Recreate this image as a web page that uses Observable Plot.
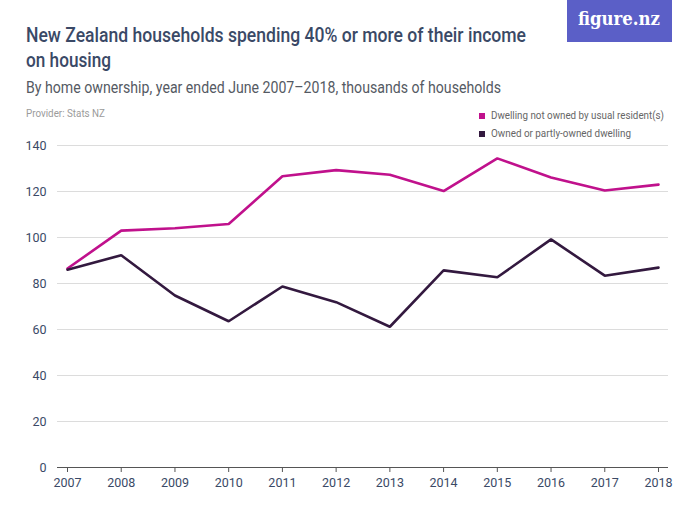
<!DOCTYPE html>
<html>
<head>
<meta charset="utf-8">
<script src="https://cdn.jsdelivr.net/npm/d3@7"></script>
<script src="https://cdn.jsdelivr.net/npm/@observablehq/plot@0.6"></script>
<style>
  body { margin: 0; background: #fff; font-family: Roboto, sans-serif; }
  #wrap { position: relative; width: 700px; height: 525px; overflow: hidden; }
  .abs { position: absolute; white-space: nowrap; }
  .fit { display: inline-block; transform-origin: 0 50%; white-space: nowrap; }
  #title { left: 26px; top: 23px; font-size: 20px; line-height: 25px; color: #3a4966; font-weight: 500; }
  #subtitle { left: 26px; top: 78px; font-size: 16.5px; line-height: 20px; color: #555a63; }
  #provider { left: 26px; top: 107px; font-size: 10.5px; line-height: 13px; color: #9b9b9b; }
  #logo { left: 567px; top: 0; width: 105px; height: 42px; background: #5b5fc7; }
  #logotext { position: absolute; left: 11px; top: 6px; color: #fff; font-family: "DejaVu Serif", "Liberation Serif", serif;
              font-weight: bold; font-size: 19px; line-height: 24px; }
  .leg { font-size: 11.5px; line-height: 14px; color: #666; left: 491px; }
  .sw { position: absolute; width: 6px; height: 6px; left: 479px; }
  #chart { position: absolute; left: 0; top: 135px; }
</style>
</head>
<body>
<div id="wrap">
  <div class="abs" id="title"><span class="fit" data-w="500">New Zealand households spending 40% or more of their income</span><br><span class="fit" data-w="85">on housing</span></div>
  <div class="abs" id="subtitle"><span class="fit" data-w="475">By home ownership, year ended June 2007–2018, thousands of households</span></div>
  <div class="abs" id="provider"><span class="fit" data-w="79">Provider: Stats NZ</span></div>
  <div class="abs" id="logo"><div id="logotext"><span class="fit" data-w="82">figure.nz</span></div></div>
  <div class="sw" style="top:112.5px;background:#c0118c"></div>
  <div class="sw" style="top:131px;background:#33193f"></div>
  <div class="abs leg" style="top:108px"><span class="fit" data-w="173">Dwelling not owned by usual resident(s)</span></div>
  <div class="abs leg" style="top:126px"><span class="fit" data-w="140">Owned or partly-owned dwelling</span></div>
  <div id="chart"></div>
</div>
<script>
const years = [2007, 2008, 2009, 2010, 2011, 2012, 2013, 2014, 2015, 2016, 2017, 2018];
const notOwned = [86.5, 103, 104, 105.9, 126.6, 129.3, 127.3, 120.2, 134.4, 126.1, 120.4, 123];
const owned = [86, 92.3, 74.8, 63.6, 78.7, 71.9, 61.2, 85.7, 82.7, 99.2, 83.4, 86.9];
const seriesNames = ["Dwelling not owned by usual resident(s)", "Owned or partly-owned dwelling"];
const colors = ["#c0118c", "#33193f"];
const yTicks = [0, 20, 40, 60, 80, 100, 120, 140];

const data = [];
years.forEach((y, i) => {
  data.push({year: y, value: notOwned[i], series: seriesNames[0]});
  data.push({year: y, value: owned[i], series: seriesNames[1]});
});

const chart = Plot.plot({
  width: 700,
  height: 372,
  marginTop: 10,
  marginBottom: 40,
  marginLeft: 57,
  marginRight: 32,
  insetLeft: 10,
  insetRight: 10,
  style: {fontFamily: "Roboto, sans-serif", fontSize: "12.5px", color: "#3a4966"},
  x: {domain: [2007, 2018], ticks: years, tickFormat: d => String(d), label: null},
  y: {domain: [0, 140], ticks: yTicks, label: null},
  color: {domain: seriesNames, range: colors},
  marks: [
    Plot.ruleY(yTicks.filter(d => d > 0), {stroke: "#dcdcdc", strokeWidth: 1}),
    Plot.axisY({ticks: yTicks, tickSize: 0, tickPadding: 11, textAnchor: "end", fontSize: 12.5, fill: "#3a4966", label: null}),
    Plot.axisX({ticks: years, tickFormat: d => String(d), tickSize: 5, tickPadding: 6, fontSize: 12.5, fill: "#3a4966", stroke: "#555", label: null}),
    Plot.ruleY([0], {stroke: "#555", strokeWidth: 1}),
    Plot.line(data, {x: "year", y: "value", z: "series", stroke: "series", strokeWidth: 2.6, strokeLinejoin: "miter"})
  ]
});
document.getElementById("chart").appendChild(chart);

document.querySelectorAll(".fit").forEach(el => {
  const target = +el.dataset.w;
  const w = el.getBoundingClientRect().width;
  if (w > 0) el.style.transform = `scaleX(${target / w})`;
});
</script>
</body>
</html>
